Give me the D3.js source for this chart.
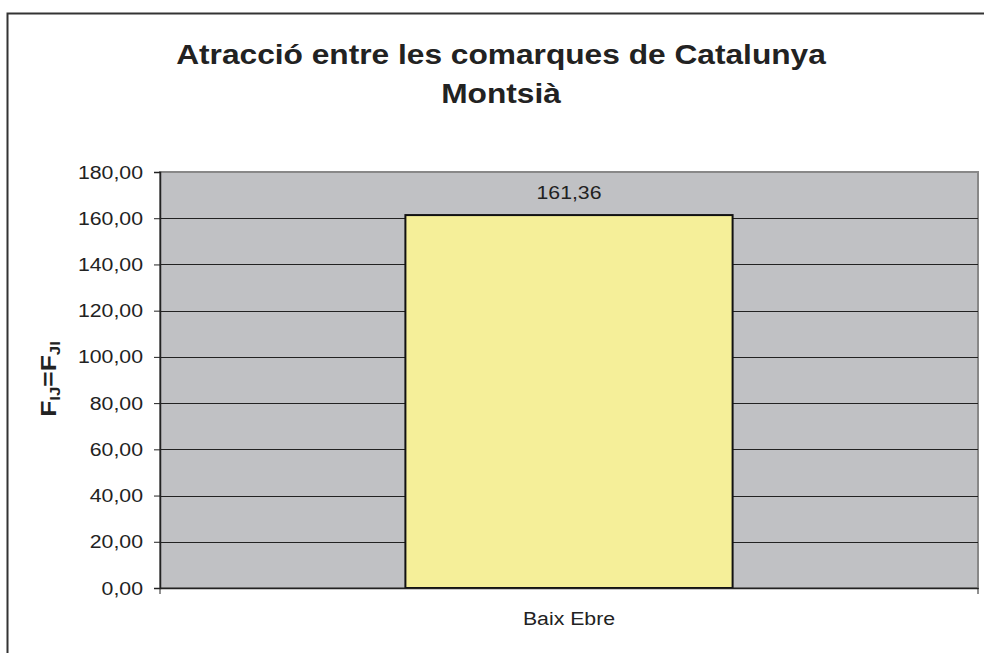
<!DOCTYPE html>
<html><head><meta charset="utf-8">
<script src="https://cdn.jsdelivr.net/npm/d3@7"></script>
<style>html,body{margin:0;padding:0;background:#fff;overflow:hidden}</style>
</head><body>
<svg id="c" width="984" height="653"></svg>
<script>
const categories = ["Baix Ebre"];
const values = [161.36];
const yTicks = [0,20,40,60,80,100,120,140,160,180];
const titleLines = ["Atracció entre les comarques de Catalunya", "Montsià"];

const svg = d3.select("#c");
const fmt = v => d3.format(".2f")(v).replace(".", ",");
const font = "'Liberation Sans', Arial, sans-serif";
const SX = 1.12; // horizontal stretch of labels

// outer frame (extends beyond right/bottom)
svg.append("rect").attr("x",7.5).attr("y",13.5).attr("width",1000).attr("height",700)
  .attr("fill","#fff").attr("stroke","#333").attr("stroke-width",2);

const L=160, R=978, T=172, B=588;
const x = d3.scaleBand().domain(categories).range([L,R]).paddingInner(0.6).paddingOuter(0.3);
const y = d3.scaleLinear().domain([0,180]).range([B,T]);

svg.append("rect").attr("x",L).attr("y",T).attr("width",R-L).attr("height",B-T)
  .attr("fill","#C0C1C4").attr("stroke","#888").attr("stroke-width",2);

// gridlines
svg.append("g").selectAll("line").data(yTicks.filter(d=>d>0 && d<180)).join("line")
  .attr("x1",L).attr("x2",R).attr("y1",d=>Math.round(y(d))+0.5).attr("y2",d=>Math.round(y(d))+0.5)
  .attr("stroke","#222").attr("stroke-width",1);

// bars
svg.append("g").selectAll("rect").data(values).join("rect")
  .attr("x",(d,i)=>x(categories[i])).attr("width",x.bandwidth())
  .attr("y",d=>y(d)).attr("height",d=>B-y(d))
  .attr("fill","#F5EF99").attr("stroke","#111").attr("stroke-width",2);

// value labels
svg.append("g").selectAll("text").data(values).join("text")
  .attr("transform",(d,i)=>`translate(${x(categories[i])+x.bandwidth()/2},${y(d)-16}) scale(${SX},1)`)
  .attr("text-anchor","middle").attr("font-family",font).attr("font-size",19).attr("fill","#222")
  .text(d=>fmt(d));

// y axis
const yAxis = svg.append("g").attr("transform",`translate(${L},0)`)
  .call(d3.axisLeft(y).tickValues(yTicks).tickFormat(fmt).tickSize(6).tickPadding(11));
yAxis.select(".domain").attr("stroke","#222").attr("stroke-width",1.5);
yAxis.selectAll(".tick line").attr("stroke","#222");
yAxis.selectAll("text").attr("font-family",font).attr("font-size",19).attr("fill","#222")
  .attr("x",-17/SX).attr("transform",`scale(${SX},1)`);

// x axis
const xAxis = svg.append("g").attr("transform",`translate(0,${B})`)
  .call(d3.axisBottom(x).tickSize(0).tickFormat(""));
xAxis.select(".domain").attr("stroke","#222").attr("stroke-width",1.5);
svg.append("g").selectAll("text").data(categories).join("text")
  .attr("transform",d=>`translate(${x(d)+x.bandwidth()/2},${B+37}) scale(${SX},1)`)
  .attr("text-anchor","middle").attr("font-family",font).attr("font-size",19).attr("fill","#222")
  .text(d=>d);
// end ticks of x axis
svg.append("g").selectAll("line").data([L,R]).join("line")
  .attr("x1",d=>d).attr("x2",d=>d).attr("y1",B).attr("y2",B+6).attr("stroke","#222");

// title
svg.append("g").selectAll("text").data(titleLines).join("text")
  .attr("transform",(d,i)=>`translate(501,${64+i*39}) scale(1.14,1)`).attr("text-anchor","middle")
  .attr("font-family",font).attr("font-weight","bold").attr("font-size",27.8).attr("fill","#222")
  .text(d=>d);

// y axis title
const yt = svg.append("text").attr("transform","translate(56,379) rotate(-90) scale(1.2,1)")
  .attr("text-anchor","middle").attr("font-family",font).attr("font-weight","bold")
  .attr("font-size",22).attr("fill","#222");
yt.append("tspan").text("F");
yt.append("tspan").attr("font-size",14).attr("dy",4).text("IJ");
yt.append("tspan").attr("dy",-4).text("=F");
yt.append("tspan").attr("font-size",14).attr("dy",4).text("JI");
</script>
</body></html>
